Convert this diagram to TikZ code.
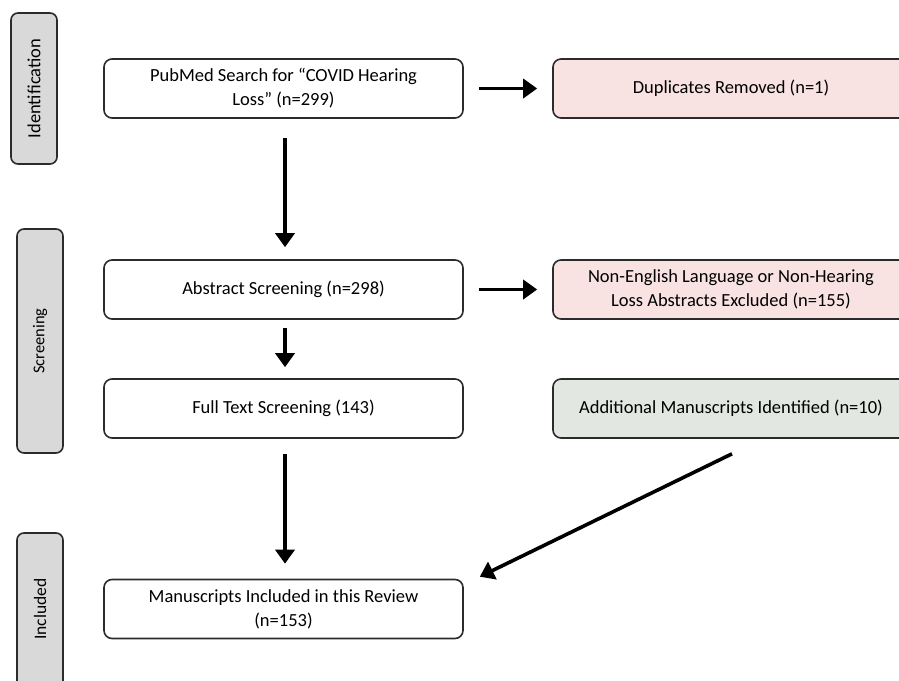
\documentclass[tikz,border=0pt]{standalone}
\usepackage{fontspec}
\setmainfont{Carlito}
\usetikzlibrary{arrows.meta,calc}
\definecolor{boxline}{HTML}{2B2B2B}
\definecolor{pinkfill}{HTML}{F9E2E2}
\definecolor{greenfill}{HTML}{E2E7E1}
\definecolor{grayfill}{HTML}{D9D9D9}
\tikzset{
  mainbox/.style={draw=boxline, line width=1.6pt, rounded corners=8pt, fill=white,
    minimum width=359pt, minimum height=59pt, align=center, inner sep=0pt,
    font=\fontsize{18.5}{24}\selectfont, text=black},
  sidebox/.style={mainbox, minimum width=356pt},
  phasebox/.style={draw=boxline, line width=1.6pt, rounded corners=7pt, fill=grayfill,
    minimum width=46pt},
  phasetext/.style={rotate=90, text=black},
  flow/.style={line width=3.6pt, -{Triangle[length=14pt,width=19pt]}}
}
\begin{document}
\begin{tikzpicture}[x=1pt,y=-1pt]
\useasboundingbox (0,0) rectangle (899,680);
\clip (0,0) rectangle (899,680);
% phase labels
\node[phasebox, minimum height=151pt] (pid) at (34,88.5) {};
\node[phasetext, font=\fontsize{18.5}{20}\selectfont] (tid) at (pid.center) {Identification};
\node[phasebox, minimum height=224pt] (psc) at (40,341) {};
\node[phasetext, font=\fontsize{16.5}{20}\selectfont] (tsc) at (psc.center) {Screening};
\node[phasebox, minimum height=180pt] (pin) at (40,623) {};
\node[phasetext, font=\fontsize{17.5}{20}\selectfont] (tin) at (40,609) {Included};
% main column
\node[mainbox] (pub) at (283.5,88.5) {PubMed Search for “COVID Hearing\\Loss” (n=299)};
\node[mainbox] (abs) at (283.5,289.5) {Abstract Screening (n=298)};
\node[mainbox] (full) at (283.5,408.5) {Full Text Screening (143)};
\node[mainbox] (man) at (283.5,609) {Manuscripts Included in this Review\\(n=153)};
% right column
\node[sidebox, fill=pinkfill] (dup) at (731,88.5) {Duplicates Removed (n=1)};
\node[sidebox, fill=pinkfill] (non) at (731,289.5) {Non-English Language or Non-Hearing\\Loss Abstracts Excluded (n=155)};
\node[sidebox, fill=greenfill] (add) at (731,408.5) {Additional Manuscripts Identified (n=10)};
% connectors
\draw[flow, shorten <=15pt, shorten >=15pt] (pub.east) -- (dup.west);
\draw[flow, shorten <=15pt, shorten >=15pt] (abs.east) -- (non.west);
\draw[flow, shorten <=19pt, shorten >=12pt] ([xshift=1.5pt]pub.south) -- ([xshift=1.5pt]abs.north);
\draw[flow, shorten <=8pt, shorten >=11pt] ([xshift=1.5pt]abs.south) -- ([xshift=1.5pt]full.north);
\draw[flow, shorten <=15pt, shorten >=15pt] ([xshift=1.5pt]full.south) -- ([xshift=1.5pt]man.north);
\coordinate (startA) at ($(add.south)+(1,15)$);
\coordinate (tipM) at ($(man.north east)+(16,-2)$);
\draw[flow] (startA) -- (tipM);
\end{tikzpicture}
\end{document}
